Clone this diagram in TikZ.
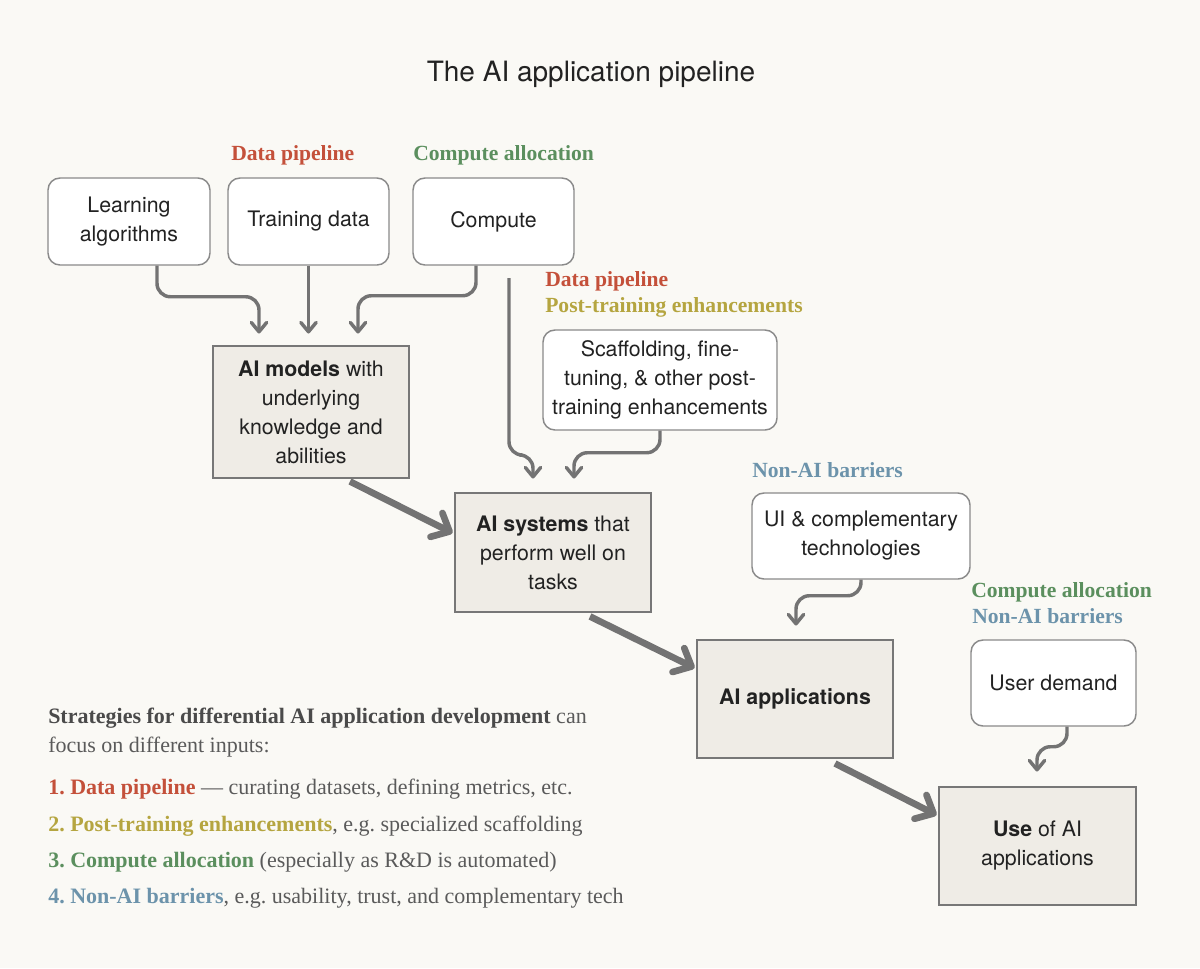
\documentclass[tikz,border=0pt]{standalone}
\usepackage{fontspec}
\setmainfont{Liberation Serif}
\newfontfamily\sansf{TeX Gyre Heros}
\usetikzlibrary{arrows.meta,calc}
\frenchspacing
\definecolor{bg}{HTML}{FAF9F5}
\definecolor{ink}{HTML}{222222}
\definecolor{wborder}{HTML}{8A8A8A}
\definecolor{gborder}{HTML}{777777}
\definecolor{gfill}{HTML}{EFECE6}
\definecolor{arr}{HTML}{737373}
\definecolor{cred}{HTML}{C4503A}
\definecolor{colive}{HTML}{B5A540}
\definecolor{cgreen}{HTML}{5B8F5E}
\definecolor{cblue}{HTML}{6C93AB}
\definecolor{lgray}{HTML}{5A5A5A}
\definecolor{lhead}{HTML}{4A4A4A}
\newcommand\px[1]{#1*0.75pt}
\newcommand\boxfont{\sansf\fontsize{16}{21.75}\selectfont}
\newcommand\labfont{\bfseries\fontsize{16.2}{19}\selectfont}
\newcommand\legfont{\fontsize{16.5}{19}\selectfont}
\begin{document}
\begin{tikzpicture}[x=0.75pt,y=-0.75pt,
 wbox/.style={draw=wborder, line width=1.1pt, fill=white, rounded corners=9pt, align=center, font=\boxfont, text=ink, inner sep=0pt},
 gbox/.style={draw=gborder, line width=2.2pt, fill=gfill, align=center, font=\boxfont, text=ink, inner sep=0pt},
 thinarr/.style={draw=arr, line width=2.6pt, rounded corners=10pt, -{Straight Barb[round,length=7pt,width=11.5pt]}},
 bigarr/.style={draw=arr, line width=5pt, -{Straight Barb[round,length=11pt,width=20pt]}},
 lab/.style={anchor=west, font=\labfont, inner sep=0pt},
 leg/.style={anchor=base west, font=\legfont, text=lgray, inner sep=0pt}]
\fill[bg] (0,0) rectangle (1200,968);
\useasboundingbox (0,0) rectangle (1200,968);

\node[font=\sansf\fontsize{21}{25}\selectfont, text=ink] (title) at (591,74) {The AI application pipeline};

% input boxes
\node[wbox, minimum width=\px{162}, minimum height=\px{87}] (la) at (129,221.5) {Learning\\algorithms};
\node[wbox, minimum width=\px{161}, minimum height=\px{87}] (td) at (308.5,221.5) {Training data};
\node[wbox, minimum width=\px{161}, minimum height=\px{87}] (cp) at (493.5,221.5) {Compute};
\node[wbox, minimum width=\px{234}, minimum height=\px{100}] (sc) at (660,380) {Scaffolding, fine-\\tuning, \& other post-\\training enhancements};
\node[wbox, minimum width=\px{218}, minimum height=\px{86}] (ui) at (861,536) {UI \& complementary\\technologies};
\node[wbox, minimum width=\px{165}, minimum height=\px{86}] (ud) at (1053.5,683) {User demand};

% stage boxes
\node[gbox, minimum width=\px{196}, minimum height=\px{132}] (mo) at (311,412) {\textbf{AI models} with\\underlying\\knowledge and\\abilities};
\node[gbox, minimum width=\px{196}, minimum height=\px{119}] (sy) at (553,552.5) {\textbf{AI systems} that\\perform well on\\tasks};
\node[gbox, minimum width=\px{196}, minimum height=\px{118}] (ap) at (795,699) {\textbf{AI applications}};
\node[gbox, minimum width=\px{197}, minimum height=\px{118}] (us) at (1037.5,846) {\textbf{Use} of AI\\applications};

% labels
\node[lab, text=cred] (l1) at (231,155) {Data pipeline};
\node[lab, text=cgreen] (l2) at (413,155) {Compute allocation};
\node[lab, text=cred] (l3) at (545,281) {Data pipeline};
\node[lab, text=colive] (l4) at (545,307) {Post-training enhancements};
\node[lab, text=cblue] (l5) at (752,470) {Non-AI barriers};
\node[lab, text=cgreen] (l6) at (971,592) {Compute allocation};
\node[lab, text=cblue] (l7) at (972,616) {Non-AI barriers};

% arrow end points
\coordinate (m1) at ($(mo.north)+(-52,-11)$);
\coordinate (m2) at ($(mo.north)+(-2,-11)$);
\coordinate (m3) at ($(mo.north)+(47,-11)$);
\coordinate (vs) at (509,278);
\coordinate (s1) at ($(sy.north)+(-20,-13)$);
\coordinate (s2) at ($(sy.north)+(21,-13)$);
\coordinate (a1) at ($(ap.north)+(1,-13)$);
\coordinate (u1) at ($(us.north)+(-0.5,-14)$);

\draw[thinarr] ($(la.south)+(28,0)$) -- ($(la.south)+(28,31)$) -| (m1);
\draw[thinarr] (td.south) -- (td.south |- m2);
\draw[thinarr] ($(cp.south)+(-17.5,0)$) -- ($(cp.south)+(-17.5,30)$) -| (m3);
\draw[thinarr] (vs) -- ($(vs)+(0,177)$) -| (s1);
\draw[thinarr] (sc.south) -- ($(sc.south)+(0,22)$) -| (s2);
\draw[thinarr] (ui.south) -- ($(ui.south)+(0,16)$) -| (a1);
\draw[thinarr] ($(ud.south)+(13.5,0)$) -- ($(ud.south)+(13.5,20)$) -| (u1);

\draw[bigarr] ($(mo.south)+(39,2)$) -- ($(sy.west)+(-1,-19.5)$);
\draw[bigarr] ($(sy.south)+(37,3)$) -- ($(ap.west)+(-1,-31)$);
\draw[bigarr] ($(ap.south)+(40,4)$) -- ($(us.west)+(-1,-31)$);

% legend
\node[leg] (g1) at (48,723) {\textcolor{lhead}{\bfseries Strategies for differential AI application development} can};
\node[leg] (g2) at (48,752) {focus on different inputs:};
\node[leg] (g3) at (48,794) {\textcolor{cred}{\bfseries 1. Data pipeline} --- curating datasets, defining metrics, etc.};
\node[leg] (g4) at (48,831) {\textcolor{colive}{\bfseries 2. Post-training enhancements}, e.g. specialized scaffolding};
\node[leg] (g5) at (48,867) {\textcolor{cgreen}{\bfseries 3. Compute allocation} (especially as R\&D is automated)};
\node[leg] (g6) at (48,903) {\textcolor{cblue}{\bfseries 4. Non-AI barriers}, e.g. usability, trust, and complementary tech};
\end{tikzpicture}
\end{document}
